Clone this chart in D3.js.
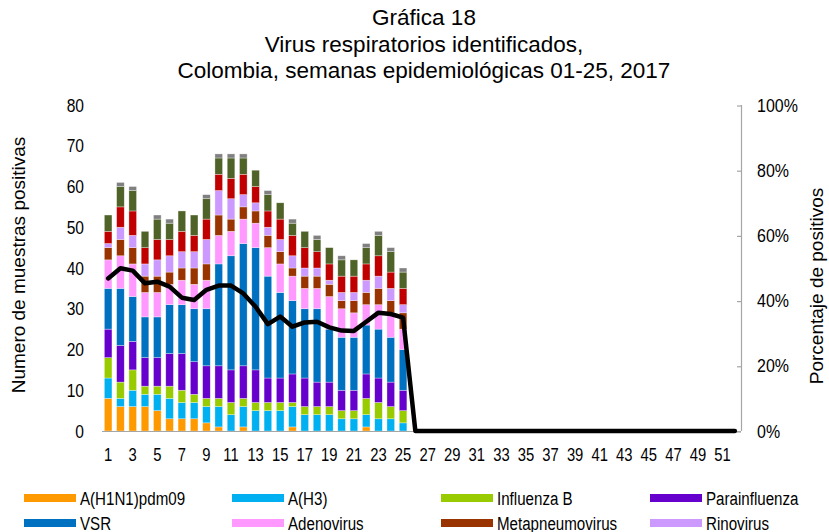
<!DOCTYPE html>
<html>
<head>
<meta charset="utf-8">
<script src="https://cdn.jsdelivr.net/npm/d3@7"></script>
<style>
  html, body { margin: 0; padding: 0; background: #fff; }
  svg { display: block; }
</style>
</head>
<body>
<svg id="chart" width="829" height="532"></svg>
<script>
// ---------- DATA ----------
const weeks = d3.range(1, 53);           // epidemiological weeks 1..52
const tickWeeks = [1,3,5,7,9,11,13,15,17,19,21,23,25,27,29,31,33,35,37,39,41,43,45,47,49,51];
const yTicks = [0,10,20,30,40,50,60,70,80];
const pctTicks = [0,20,40,60,80,100];

const seriesNames = ["A(H1N1)pdm09","A(H3)","Influenza  B","Parainfluenza","VSR","Adenovirus","Metapneumovirus","Rinovirus","Bocavirus","Otros virus","Coronavirus"];
const seriesColors = ["#FF9900","#00B0F0","#99CC00","#6600CC","#0070C0","#FF99FF","#993300","#CC99FF","#C00000","#4F6228","#808080"];

// counts per week (weeks 1..25)
const h1n1      = [8,6,6,6,5,3,3,3,2,1,0,1,0,0,0,1,0,0,0,0,0,1,0,0,0];
const h3        = [5,2,4,3,4,5,4,4,4,5,4,5,5,5,5,5,4,4,4,3,3,3,3,3,2];
const infB      = [5,4,5,2,2,3,3,2,2,2,3,2,2,2,2,1,2,2,2,2,2,4,4,3,3];
const parainf   = [7,9,7,7,7,8,9,8,8,8,8,8,8,6,6,7,7,6,6,5,5,6,6,6,5];
const vsr       = [10,14,11,10,10,12,12,13,14,25,28,30,30,25,21,18,17,18,13,13,13,12,12,11,10];
const adeno     = [7,8,8,6,6,5,6,6,7,7,6,6,6,7,7,6,5,5,8,7,6,5,6,6,5];
const metapneu  = [3,4,4,4,4,3,3,4,4,5,3,3,3,3,3,2,3,3,3,2,3,3,4,3,4];
const rino      = [1,3,3,3,4,4,4,4,6,6,5,3,2,2,3,3,2,2,1,2,2,3,3,3,2];
const boca      = [3,5,6,4,5,4,5,4,5,4,5,5,4,4,5,5,5,4,4,4,4,4,5,4,4];
const otros     = [4,5,5,4,5,4,5,5,5,4,5,4,4,4,4,3,4,3,4,4,4,4,5,5,4];
const corona    = [0,1,1,0,1,1,0,0,1,1,1,1,0,1,0,1,0,1,0,1,0,1,1,1,1];

// percentage of positives per week (weeks 1..52)
const pctPositive = [46.8,49.9,49.2,45.3,45.8,44.3,40.9,40.2,43.3,44.6,44.6,42.2,38.1,32.8,35.1,32.0,33.3,33.5,31.8,30.8,30.7,33.5,36.3,35.9,34.8,
                     0,0,0,0,0,0,0,0,0,0,0,0,0,0,0,0,0,0,0,0,0,0,0,0,0,0,0];

const legendShown = 8; // only the first two legend rows are visible in the frame

// ---------- BUILD TABLE ----------
const seriesArrays = [h1n1,h3,infB,parainf,vsr,adeno,metapneu,rino,boca,otros,corona];
const table = weeks.map((w, i) => {
  const row = { week: w };
  seriesNames.forEach((n, k) => { row[n] = seriesArrays[k][i] || 0; });
  return row;
});
const stacked = d3.stack().keys(seriesNames)(table);

// ---------- LAYOUT ----------
const svg = d3.select("#chart");
const plot = { left: 102, right: 741, top: 105, bottom: 431 };

const x = d3.scaleBand().domain(weeks).range([plot.left, plot.right])
  .paddingInner(0.38).paddingOuter(0.19);
const y = d3.scaleLinear().domain([0, 80]).range([plot.bottom, plot.top]);
const yPct = d3.scaleLinear().domain([0, 100]).range([plot.bottom, plot.top]);

const narrow = "'Liberation Sans Narrow','Arial Narrow','Liberation Sans',Arial,sans-serif";
const regular = "'Liberation Sans',Arial,sans-serif";

// detect whether a real narrow face exists; otherwise squeeze glyphs horizontally
const cnv = document.createElement("canvas").getContext("2d");
cnv.font = "18px 'Liberation Sans Narrow', monospace";
const wN = cnv.measureText("0123456789 Parainfluenza").width;
cnv.font = "18px monospace";
const wM = cnv.measureText("0123456789 Parainfluenza").width;
const hasNarrow = Math.abs(wN - wM) > 0.5;
function squeeze(sel, k) {
  if (hasNarrow) return;
  sel.each(function () {
    const L = this.getComputedTextLength();
    d3.select(this).attr("textLength", L * k).attr("lengthAdjust", "spacingAndGlyphs");
  });
}

// ---------- TITLE ----------
const titleLines = ["Gráfica 18", "Virus respiratorios identificados,", "Colombia, semanas epidemiológicas 01-25, 2017"];
svg.append("g").selectAll("text").data(titleLines).join("text")
  .attr("x", 424).attr("y", (d, i) => 25 + i * 26.5)
  .attr("text-anchor", "middle")
  .attr("font-family", regular).attr("font-size", 22.5).attr("fill", "#000")
  .text(d => d);

// ---------- BARS ----------
svg.append("g").selectAll("g").data(stacked).join("g")
  .attr("fill", (d, i) => seriesColors[i])
  .selectAll("rect").data(d => d.filter(p => p[1] - p[0] > 0)).join("rect")
  .attr("x", d => x(d.data.week))
  .attr("width", x.bandwidth())
  .attr("y", d => y(d[1]))
  .attr("height", d => y(d[0]) - y(d[1]))
  .attr("stroke", "#ffffff").attr("stroke-opacity", 0.55).attr("stroke-width", 0.6);

// ---------- AXES ----------
// bottom axis
const xAxis = svg.append("g").attr("transform", `translate(0,${plot.bottom})`)
  .call(d3.axisBottom(x).tickValues(tickWeeks).tickSize(0).tickPadding(17));
xAxis.select(".domain").attr("stroke", "#a6a6a6").attr("stroke-width", 1.2)
  .attr("d", `M${plot.left},0.5H${plot.right}`);
xAxis.selectAll("text").attr("font-family", narrow).attr("font-size", 18.5).attr("fill", "#000");
squeeze(xAxis.selectAll("text"), 0.8);

// left axis (labels only)
const yAxis = svg.append("g").attr("transform", `translate(${plot.left},0)`)
  .call(d3.axisLeft(y).tickValues(yTicks).tickSize(0).tickPadding(18));
yAxis.select(".domain").remove();
yAxis.selectAll("text").attr("font-family", narrow).attr("font-size", 19).attr("fill", "#000");
squeeze(yAxis.selectAll("text"), 0.82);

// right axis
const rAxis = svg.append("g").attr("transform", `translate(${plot.right},0)`)
  .call(d3.axisRight(yPct).tickValues(pctTicks).tickSize(0).tickPadding(16).tickFormat(d => d + "%"));
rAxis.select(".domain").attr("stroke", "#a6a6a6").attr("stroke-width", 1.2)
  .attr("d", `M0.5,${plot.top}V${plot.bottom}`);
rAxis.selectAll(".tick line").remove();
rAxis.selectAll(".tick").append("line").attr("x1", -4).attr("x2", 0).attr("y1", 0.5).attr("y2", 0.5)
  .attr("stroke", "#a6a6a6").attr("stroke-width", 1.2);
rAxis.selectAll("text").attr("font-family", narrow).attr("font-size", 19).attr("fill", "#000");
squeeze(rAxis.selectAll("text"), 0.84);

// axis titles
svg.append("text")
  .attr("transform", `translate(25,${(plot.top + plot.bottom) / 2 - 3}) rotate(-90)`)
  .attr("text-anchor", "middle").attr("font-family", regular).attr("font-size", 19)
  .text("Numero de muestras positivas");
svg.append("text")
  .attr("transform", `translate(823,${(plot.top + plot.bottom) / 2 + 18}) rotate(-90)`)
  .attr("text-anchor", "middle").attr("font-family", regular).attr("font-size", 19)
  .text("Porcentaje de positivos");

// ---------- LINE ----------
const line = d3.line()
  .x((d, i) => x(weeks[i]) + x.bandwidth() / 2)
  .y(d => yPct(d))
  .curve(d3.curveLinear);
svg.append("path").datum(pctPositive)
  .attr("fill", "none").attr("stroke", "#000").attr("stroke-width", 4.5)
  .attr("stroke-linejoin", "round").attr("stroke-linecap", "round")
  .attr("d", line);

// ---------- LEGEND ----------
const legCols = [24, 232, 441, 650];
const legRows = [498, 523];
const leg = svg.append("g").selectAll("g").data(seriesNames.slice(0, legendShown)).join("g")
  .attr("transform", (d, i) => `translate(${legCols[i % 4]},${legRows[Math.floor(i / 4)]})`);
leg.append("rect").attr("x", 0).attr("y", -4).attr("width", 52).attr("height", 8)
  .attr("fill", (d, i) => seriesColors[i]);
const legText = leg.append("text").attr("x", 56).attr("y", 6.5)
  .attr("font-family", narrow).attr("font-size", 18).attr("fill", "#000")
  .text(d => d);
squeeze(legText, 0.84);
</script>
</body>
</html>
